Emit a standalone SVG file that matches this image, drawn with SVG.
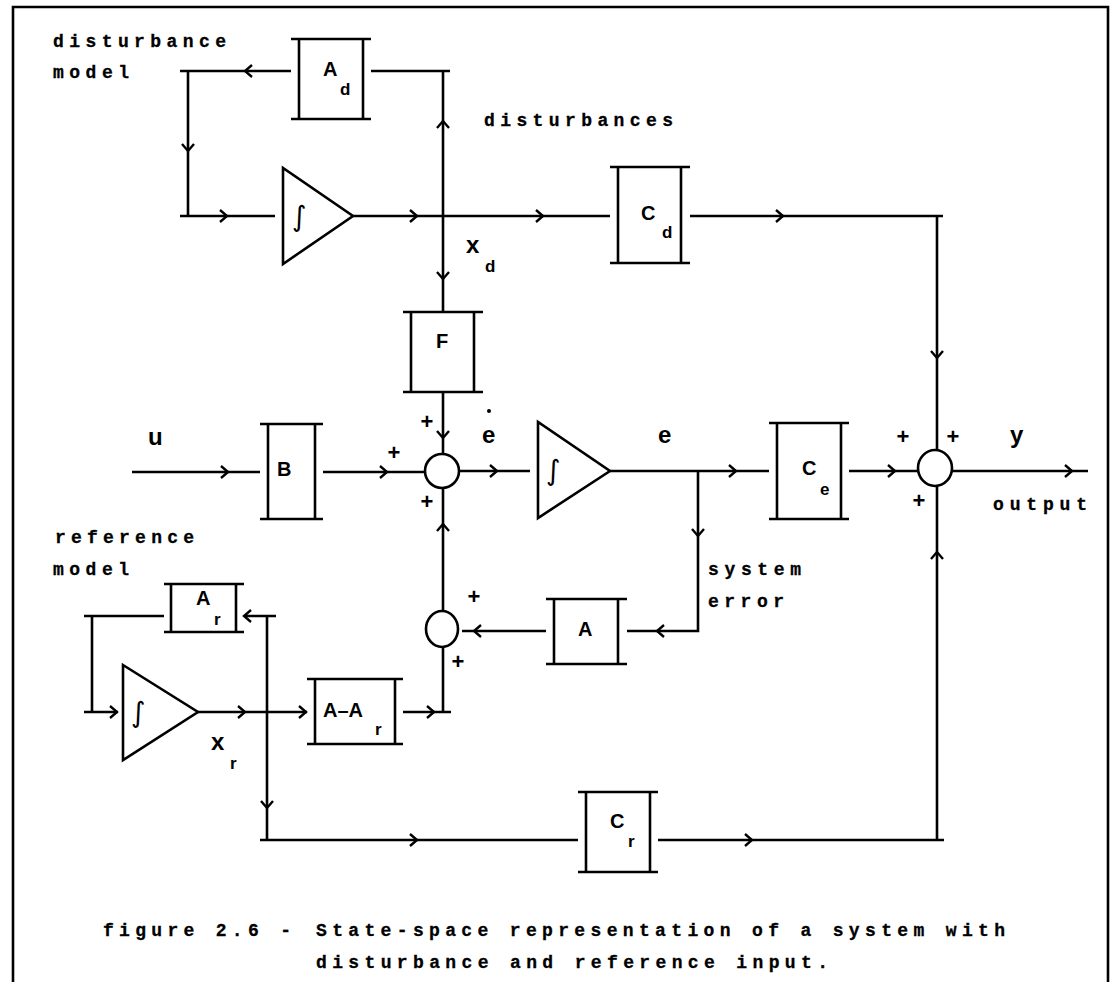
<svg xmlns="http://www.w3.org/2000/svg" xmlns:xlink="http://www.w3.org/1999/xlink" width="1114" height="982" viewBox="0 0 1114 982">
<style>
.ln{stroke:#000;stroke-width:2.6;fill:none;stroke-linecap:butt}
.bx{stroke:#000;stroke-width:2.6;fill:none}
.sj{stroke:#000;stroke-width:2.6;fill:#fff}
.lbl{font-family:"Liberation Mono",monospace;font-weight:bold;font-size:18px;fill:#000;stroke:#000;stroke-width:0.3}
.bl{font-family:"Liberation Sans",Arial,sans-serif;font-weight:bold;font-size:20px;fill:#000}
.sub{font-family:"Liberation Sans",Arial,sans-serif;font-weight:bold;font-size:17px;fill:#000}
.var{font-family:"Liberation Sans",Arial,sans-serif;font-weight:bold;font-size:24px;fill:#000}
.pl{font-family:"Liberation Sans",Arial,sans-serif;font-weight:bold;font-size:22px;fill:#000;text-anchor:middle}
.int{font-family:"DejaVu Sans",sans-serif;font-size:28px;fill:#000}
</style>
<defs>
<path id="ah" d="M-7,-6L0,0L-7,6" fill="none" stroke="#000" stroke-width="2.4"/>
</defs>

<path class="ln" d="M13,982V7H1108V982" stroke-width="3"/>

<g id="labels">
<text class="lbl" x="53" y="47" textLength="173" lengthAdjust="spacing">disturbance</text>
<text class="lbl" x="53" y="78" textLength="76" lengthAdjust="spacing">model</text>
<text class="lbl" x="484" y="126" textLength="189" lengthAdjust="spacing">disturbances</text>
<text class="lbl" x="55" y="543" textLength="139" lengthAdjust="spacing">reference</text>
<text class="lbl" x="53" y="575" textLength="76" lengthAdjust="spacing">model</text>
<text class="lbl" x="708" y="575" textLength="93" lengthAdjust="spacing">system</text>
<text class="lbl" x="708" y="607" textLength="76" lengthAdjust="spacing">error</text>
<text class="lbl" x="993" y="510" textLength="94" lengthAdjust="spacing">output</text>
<text class="var" x="148" y="445">u</text>
<text class="var" x="482" y="443">e</text>
<circle cx="489" cy="411" r="2" fill="#000"/>
<text class="var" x="658" y="443">e</text>
<text class="var" x="1010" y="443">y</text>
<text class="var" x="466" y="253">x</text>
<text class="sub" x="485" y="272">d</text>
<text class="var" x="211" y="750">x</text>
<text class="sub" x="230" y="769">r</text>
<text class="pl" x="427" y="429">+</text>
<text class="pl" x="394" y="460">+</text>
<text class="pl" x="427" y="509">+</text>
<text class="pl" x="474" y="604">+</text>
<text class="pl" x="458" y="669">+</text>
<text class="pl" x="903" y="444">+</text>
<text class="pl" x="953" y="444">+</text>
<text class="pl" x="919" y="508">+</text>
</g>

<g id="node-Ad">
<path class="bx" d="M291,39H371M291,119H371M299,39V119M363,39V119"/>
<text class="bl" x="323" y="76">A</text><text class="sub" x="340" y="95">d</text>
</g>
<g id="node-Cd">
<path class="bx" d="M610,167H690M610,263H690M618,167V263M681,167V263"/>
<text class="bl" x="641" y="220">C</text><text class="sub" x="662" y="238">d</text>
</g>
<g id="node-F">
<path class="bx" d="M403,312H483M403,392H483M411,312V392M474,312V392"/>
<text class="bl" x="436" y="348">F</text>
</g>
<g id="node-B">
<path class="bx" d="M260,424H323M260,519H323M268,424V519M315,424V519"/>
<text class="bl" x="277" y="476">B</text>
</g>
<g id="node-Ce">
<path class="bx" d="M769,423H849M769,519H849M777,423V519M841,423V519"/>
<text class="bl" x="802" y="475">C</text><text class="sub" x="820" y="495">e</text>
</g>
<g id="node-A">
<path class="bx" d="M546,599H627M546,664H627M554,599V664M618,599V664"/>
<text class="bl" x="578" y="636">A</text>
</g>
<g id="node-Ar">
<path class="bx" d="M164,584H244M164,632H244M171,584V632M236,584V632"/>
<text class="bl" x="196" y="605">A</text><text class="sub" x="214" y="625">r</text>
</g>
<g id="node-AmAr">
<path class="bx" d="M307,679H403M307,744H403M315,679V744M395,679V744"/>
<text class="bl" x="323" y="717">A–A</text><text class="sub" x="375" y="735">r</text>
</g>
<g id="node-Cr">
<path class="bx" d="M578,792H658M578,872H658M586,792V872M650,792V872"/>
<text class="bl" x="610" y="828">C</text><text class="sub" x="628" y="847">r</text>
</g>
<g id="node-int1">
<path class="bx" d="M283,168V264L353,216Z"/>
<text class="int" x="292" y="226">∫</text>
</g>
<g id="node-int2">
<path class="bx" d="M538,422V518L610,471Z"/>
<text class="int" x="546" y="480">∫</text>
</g>
<g id="node-int3">
<path class="bx" d="M123,665V760L198,712Z"/>
<text class="int" x="131" y="722">∫</text>
</g>
<g id="node-sum1"><ellipse class="sj" cx="442" cy="471" rx="17" ry="17"/></g>
<g id="node-sum2"><ellipse class="sj" cx="935" cy="468" rx="17" ry="18"/></g>
<g id="node-sum3"><ellipse class="sj" cx="442" cy="629" rx="16" ry="18"/></g>

<g id="connectors">
<path class="ln" d="M291,71H180M188,71V216M180,216H275"/>
<path class="ln" d="M353,216H610"/>
<path class="ln" d="M371,71H450M443,71V312"/>
<path class="ln" d="M690,216H943M937,216V450"/>
<path class="ln" d="M443,392V454"/>
<path class="ln" d="M132,472H260M323,472H425"/>
<path class="ln" d="M459,471H530M610,471H769M698,471V631H627"/>
<path class="ln" d="M849,471H918M952,471H1088"/>
<path class="ln" d="M443,488V611M443,647V712M403,712H451"/>
<path class="ln" d="M546,631H462"/>
<path class="ln" d="M164,616H84M92,616V712M84,712H118"/>
<path class="ln" d="M198,712H307M276,616H244M267,616V840M260,840H578"/>
<path class="ln" d="M658,840H944M937,486V840"/>
<use href="#ah" transform="translate(245,71) rotate(180)"/>
<use href="#ah" transform="translate(188,151) rotate(90)"/>
<use href="#ah" transform="translate(227,216)"/>
<use href="#ah" transform="translate(417,216)"/>
<use href="#ah" transform="translate(543,216)"/>
<use href="#ah" transform="translate(783,216)"/>
<use href="#ah" transform="translate(443,121) rotate(-90)"/>
<use href="#ah" transform="translate(443,279) rotate(90)"/>
<use href="#ah" transform="translate(937,358) rotate(90)"/>
<use href="#ah" transform="translate(443,438) rotate(90)"/>
<use href="#ah" transform="translate(228,472)"/>
<use href="#ah" transform="translate(387,472)"/>
<use href="#ah" transform="translate(497,471)"/>
<use href="#ah" transform="translate(736,471)"/>
<use href="#ah" transform="translate(895,471)"/>
<use href="#ah" transform="translate(1072,471)"/>
<use href="#ah" transform="translate(698,536) rotate(90)"/>
<use href="#ah" transform="translate(443,524) rotate(-90)"/>
<use href="#ah" transform="translate(937,552) rotate(-90)"/>
<use href="#ah" transform="translate(657,631) rotate(180)"/>
<use href="#ah" transform="translate(474,631) rotate(180)"/>
<use href="#ah" transform="translate(434,712)"/>
<use href="#ah" transform="translate(117,712)"/>
<use href="#ah" transform="translate(245,712)"/>
<use href="#ah" transform="translate(306,712)"/>
<use href="#ah" transform="translate(244,616) rotate(180)"/>
<use href="#ah" transform="translate(267,808) rotate(90)"/>
<use href="#ah" transform="translate(417,840)"/>
<use href="#ah" transform="translate(752,840)"/>
</g>

<g id="caption">
<text class="lbl" x="103" y="936" textLength="188" lengthAdjust="spacing">figure 2.6 -</text>
<text class="lbl" x="316" y="936" textLength="689" lengthAdjust="spacing">State-space representation of a system with</text>
<text class="lbl" x="316" y="968" textLength="512" lengthAdjust="spacing">disturbance and reference input.</text>
</g>
</svg>
